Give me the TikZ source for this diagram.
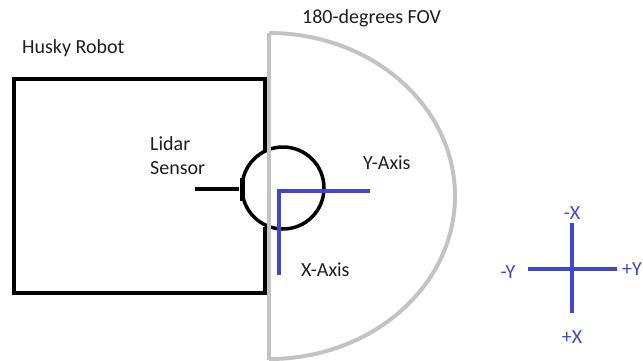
\documentclass[tikz,border=0pt]{standalone}
\usepackage{fontspec}
\setmainfont{Carlito}
\usetikzlibrary{positioning}
\definecolor{paintblue}{RGB}{63,72,204}
\definecolor{paintgray}{RGB}{195,195,195}
\definecolor{inktext}{RGB}{30,30,30}
\begin{document}
\begin{tikzpicture}[x=1pt, y=-1pt,
    lbl/.style={font=\fontsize{20}{24}\selectfont, text=inktext, inner sep=0pt},
    axlbl/.style={lbl, text=paintblue},
    body/.style={draw=black, line width=3.5pt},
    fov/.style={draw=paintgray, line width=4pt},
    axis/.style={draw=paintblue, line width=3.5pt}
]
    \useasboundingbox (0,0) rectangle (643,360);
    % robot body with a gap for the lidar
    \draw[body, line join=miter] (265,150) -- (265,79) -- (14,79) -- (14,293) -- (265,293) -- (265,227);
    \node[body, circle, minimum size=82pt, inner sep=0pt] (lidar) at (283,188) {};
    \node[fill=black, minimum width=5pt, minimum height=23pt, inner sep=0pt] (mount) at (242,189) {};
    \coordinate (feed) at (195,189);
    \draw[body] (feed) -- (mount.west);
    % field of view
    \coordinate (fovtop) at (269,33);
    \coordinate (fovbot) at (269,360);
    \draw[fov] (fovtop) -- (fovbot);
    \draw[fov] (fovtop) arc[start angle=90, end angle=-90, x radius=186pt, y radius=163pt];
    % sensor frame
    \coordinate (origin) at (279,191);
    \coordinate (xend) at (279,275);
    \coordinate (yend) at (370,191);
    \draw[axis] (xend) -- (origin) -- (yend);
    % legend cross
    \coordinate (cross) at (572,269);
    \coordinate (negy) at (528,269);
    \coordinate (posy) at (617,269);
    \coordinate (negx) at (572,223);
    \coordinate (posx) at (572,313);
    \draw[axis] (negy) -- (posy);
    \draw[axis] (negx) -- (posx);
    % labels
    \node[lbl, anchor=west] (husky) at (22,48) {Husky Robot};
    \node[lbl, anchor=west] (fovlbl) at (302,18) {180-degrees FOV};
    \node[lbl, anchor=north west, align=left] (lidarlbl) at (150,136) {Lidar\\Sensor};
    \node[lbl, anchor=west] (ylbl) at (363,163) {Y-Axis};
    \node[lbl, anchor=west] (xlbl) at (301,270) {X-Axis};
    \node[axlbl] (mx) at (572,213) {-X};
    \node[axlbl] (px) at (572,337) {+X};
    \node[axlbl] (my) at (508,272) {-Y};
    \node[axlbl, anchor=east] (py) at (642,269) {+Y};
\end{tikzpicture}
\end{document}
